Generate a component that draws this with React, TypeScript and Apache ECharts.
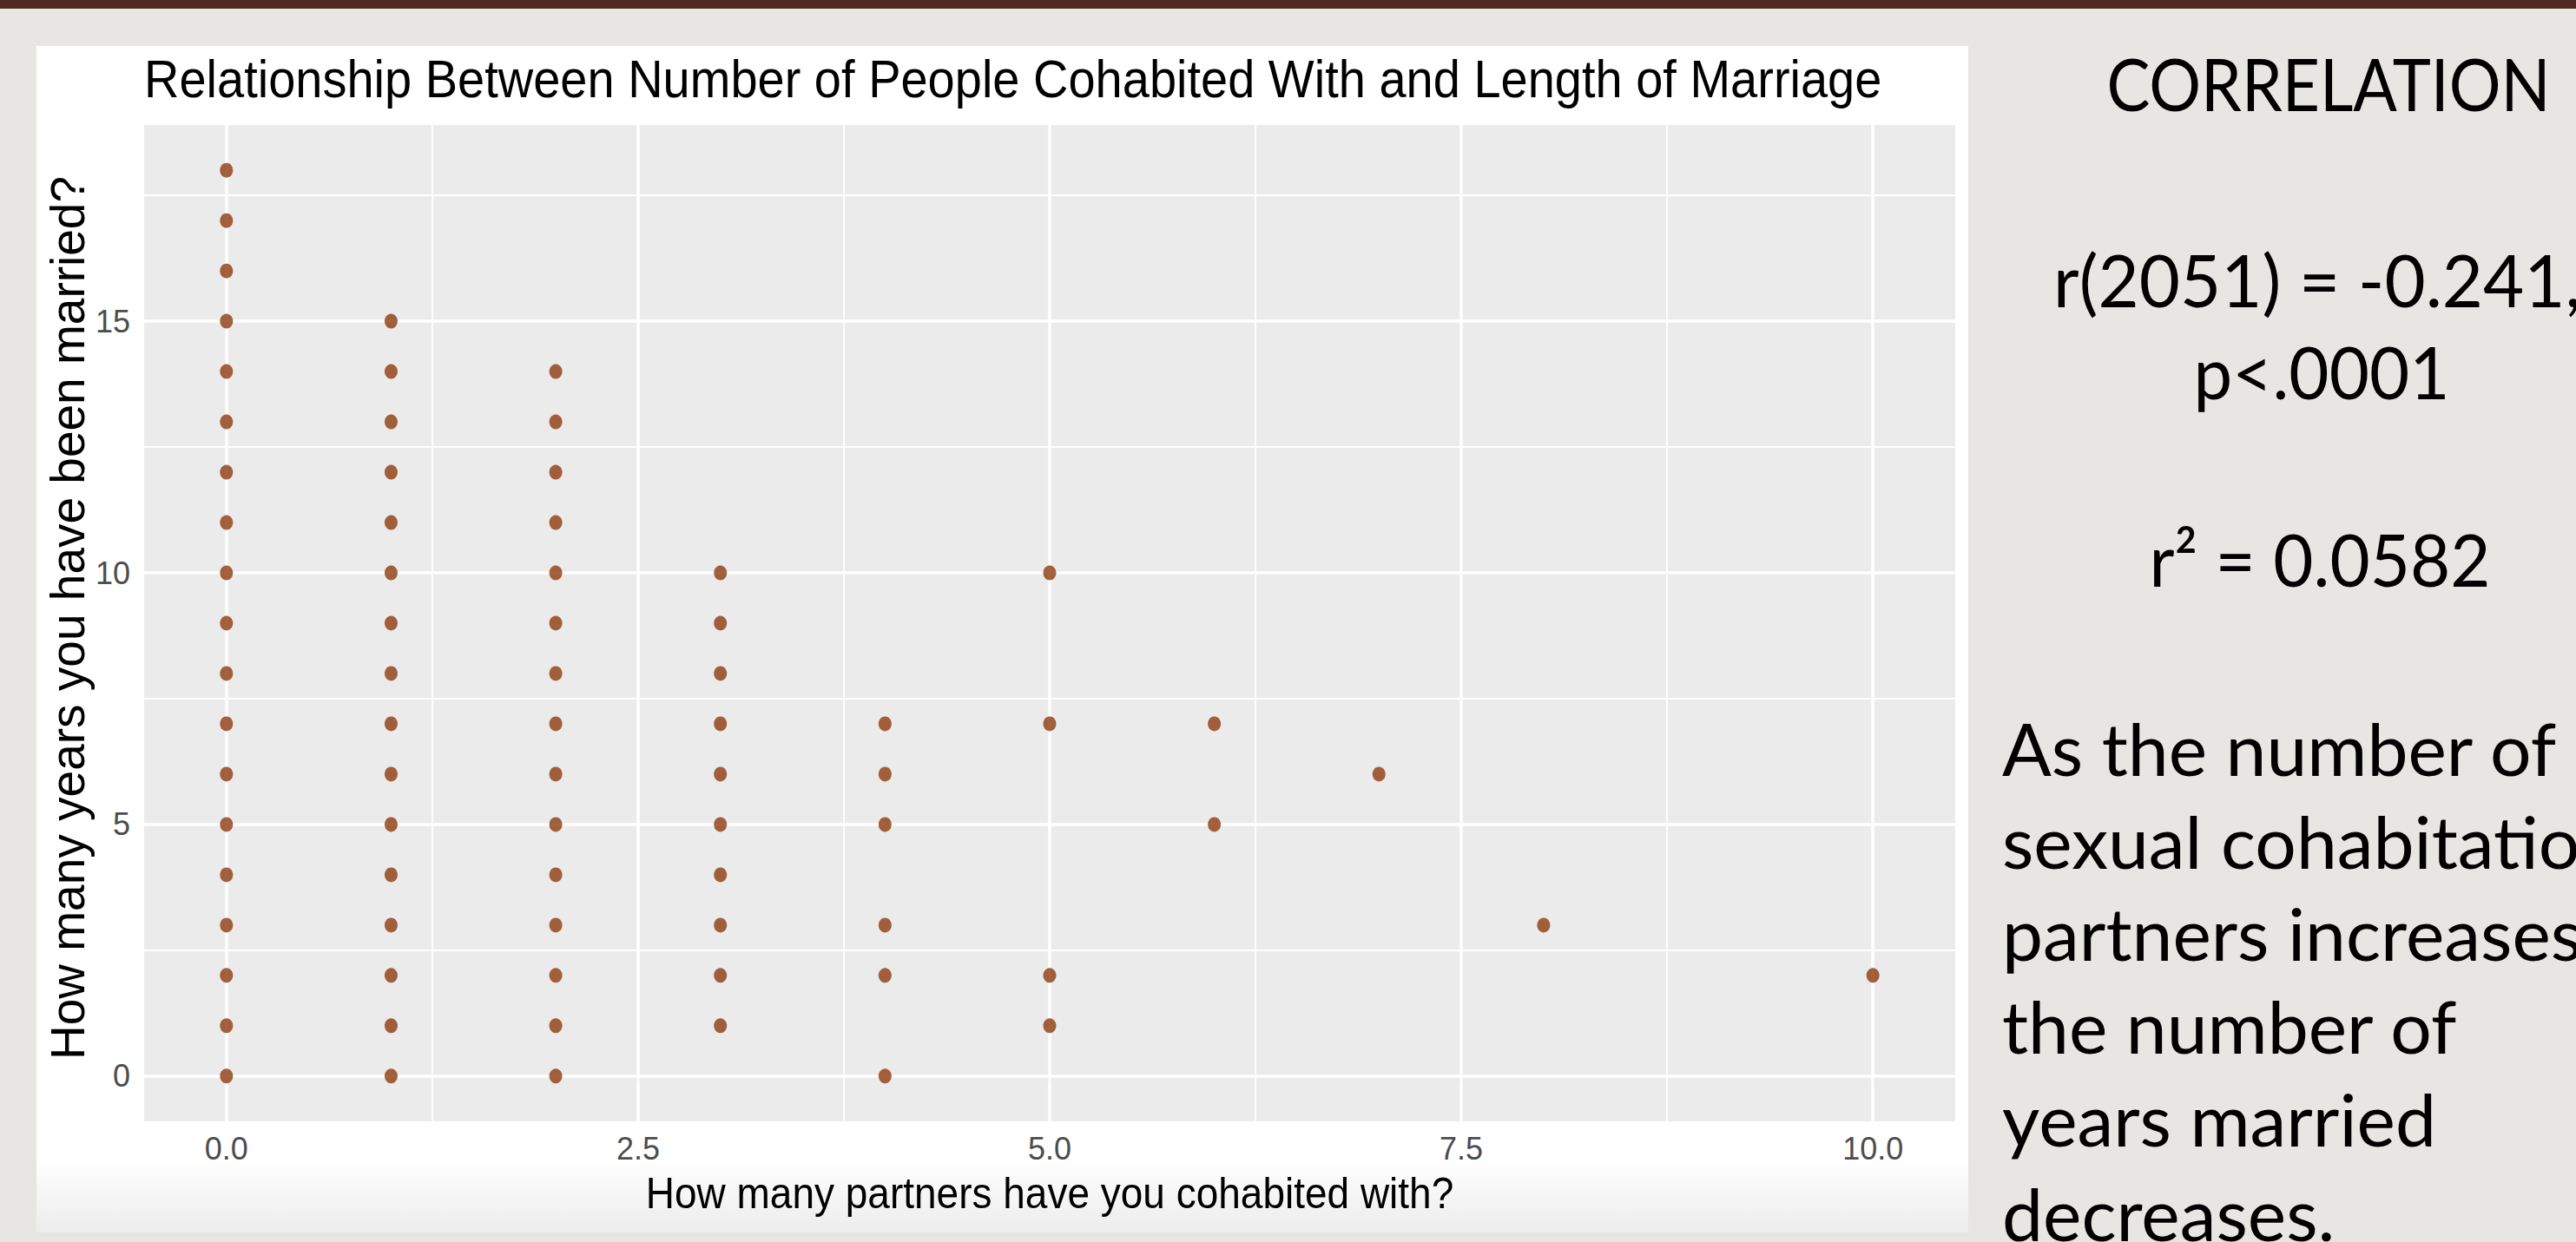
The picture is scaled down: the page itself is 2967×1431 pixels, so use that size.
import React, { useEffect, useRef } from "react";
import * as echarts from "echarts";

const W = 2967;
const H = 1431;

// ---- data ----
const partnersCohabited = [0, 1, 2, 3, 4, 5, 6, 7, 8, 10];
const yearsAt0 = [0, 1, 2, 3, 4, 5, 6, 7, 8, 9, 10, 11, 12, 13, 14, 15, 16, 17, 18];
const yearsAt1 = [0, 1, 2, 3, 4, 5, 6, 7, 8, 9, 10, 11, 12, 13, 14, 15];
const yearsAt2 = [0, 1, 2, 3, 4, 5, 6, 7, 8, 9, 10, 11, 12, 13, 14];
const yearsAt3 = [1, 2, 3, 4, 5, 6, 7, 8, 9, 10];
const yearsAt4 = [0, 2, 3, 5, 6, 7];
const yearsAt5 = [1, 2, 7, 10];
const yearsAt6 = [5, 7];
const yearsAt7 = [6];
const yearsAt8 = [3];
const yearsAt10 = [2];
const yearsByColumn = [yearsAt0, yearsAt1, yearsAt2, yearsAt3, yearsAt4, yearsAt5, yearsAt6, yearsAt7, yearsAt8, yearsAt10];

const xTicks = [0, 2.5, 5, 7.5, 10];
const xMinor = [1.25, 3.75, 6.25, 8.75];
const yTicks = [0, 5, 10, 15];
const yMinor = [2.5, 7.5, 12.5, 17.5];

const chartTitle = "Relationship Between Number of People Cohabited With and Length of Marriage";
const xTitle = "How many partners have you cohabited with?";
const yTitle = "How many years you have been married?";
const sideHeading = "CORRELATION";
const statLine1 = "r(2051) = -0.241,";
const statLine2 = "p<.0001";
const statLine3 = "r\u00B2 = 0.0582";
const paragraph = [
  "As the number of",
  "sexual cohabitation",
  "partners increases",
  "the number of",
  "years married",
  "decreases.",
];

const points: number[][] = [];
partnersCohabited.forEach((x, i) => {
  yearsByColumn[i].forEach((y) => points.push([x, y]));
});

const GG = "'Liberation Sans', Arial, Helvetica, sans-serif";
const SLIDE = "Lato, 'Open Sans', sans-serif";

export default function App() {
  const ref = useRef<HTMLDivElement>(null);
  useEffect(() => {
    document.body.style.margin = "0";
    const chart = echarts.init(ref.current!, null, { renderer: "svg", width: W, height: H });
    const sideText = (text: string, x: number, y: number, align: string, sx: number) => ({
      type: "text",
      z: 10,
      x,
      y,
      scaleX: sx,
      style: {
        text,
        fill: "#000",
        font: `84px ${SLIDE}`,
        textAlign: align,
        textVerticalAlign: "middle",
      },
    });
    const paraY = [861, 968, 1074, 1181, 1288, 1397];
    chart.setOption({
      animation: false,
      backgroundColor: "#e8e6e2",
      grid: {
        left: 166,
        top: 144,
        width: 2086,
        height: 1148,
        show: true,
        backgroundColor: "#ebebeb",
        borderWidth: 0,
        containLabel: false,
      },
      xAxis: {
        type: "value",
        min: -0.5,
        max: 10.5,
        axisLine: { show: false },
        splitLine: { show: false },
        axisTick: { show: true, customValues: xTicks, length: 10, lineStyle: { color: "#333", width: 2.2 } },
        axisLabel: {
          customValues: xTicks,
          formatter: (v: number) => v.toFixed(1),
          fontSize: 36,
          color: "#4d4d4d",
          fontFamily: GG,
          margin: 13,
        },
      },
      yAxis: {
        type: "value",
        min: -0.9,
        max: 18.9,
        axisLine: { show: false },
        splitLine: { show: false },
        axisTick: { show: true, customValues: yTicks, length: 10, lineStyle: { color: "#333", width: 2.2 } },
        axisLabel: {
          customValues: yTicks,
          formatter: (v: number) => String(v),
          fontSize: 36,
          color: "#4d4d4d",
          fontFamily: GG,
          margin: 16,
        },
      },
      graphic: [
        { type: "rect", z: -2, shape: { x: 0, y: 0, width: W, height: 10 }, style: { fill: "#4f2a20" } },
        { type: "rect", z: -2, shape: { x: 42, y: 53, width: 2225, height: 1367 }, style: { fill: "#ffffff" } },
        {
          type: "rect",
          z: -1,
          shape: { x: 42, y: 1335, width: 2225, height: 85 },
          style: {
            fill: new echarts.graphic.LinearGradient(0, 0, 0, 1, [
              { offset: 0, color: "rgba(236,236,236,0)" },
              { offset: 1, color: "rgba(236,236,236,1)" },
            ]),
          },
        },
        {
          type: "text",
          z: 10,
          x: 166,
          y: 91,
          scaleY: 1.1,
          style: { text: chartTitle, fill: "#000", font: `56px ${GG}`, textAlign: "left", textVerticalAlign: "middle" },
        },
        {
          type: "text",
          z: 10,
          x: 1209,
          y: 1374,
          scaleY: 1.1,
          style: { text: xTitle, fill: "#000", font: `46px ${GG}`, textAlign: "center", textVerticalAlign: "middle" },
        },
        {
          type: "text",
          z: 10,
          x: 78,
          y: 712,
          rotation: Math.PI / 2,
          style: { text: yTitle, fill: "#000", font: `55px ${GG}`, textAlign: "center", textVerticalAlign: "middle" },
        },
        sideText(sideHeading, 2682, 96, "center", 0.89),
        sideText(statLine1, 2365, 322, "left", 0.97),
        sideText(statLine2, 2674, 427, "center", 0.95),
        sideText(statLine3, 2672, 643, "center", 0.95),
        ...paragraph.map((t, i) => sideText(t, 2306, paraY[i], "left", 1)),
      ],
      series: [
        {
          type: "scatter",
          z: 3,
          data: points,
          symbol: "circle",
          symbolSize: [15, 17],
          itemStyle: { color: "#8e3b0f" },
          silent: true,
          markLine: {
            z: 1,
            silent: true,
            symbol: ["none", "none"],
            label: { show: false },
            lineStyle: { color: "#ffffff", type: "solid", opacity: 1 },
            data: [
              ...yMinor.map((v) => ({ yAxis: v, lineStyle: { width: 1.8, color: "#ffffff", type: "solid" } })),
              ...xMinor.map((v) => ({ xAxis: v, lineStyle: { width: 1.8, color: "#ffffff", type: "solid" } })),
              ...yTicks.map((v) => ({ yAxis: v, lineStyle: { width: 3.5, color: "#ffffff", type: "solid" } })),
              ...xTicks.map((v) => ({ xAxis: v, lineStyle: { width: 3.5, color: "#ffffff", type: "solid" } })),
            ],
          },
        },
      ],
    });
    return () => chart.dispose();
  }, []);
  return <div ref={ref} style={{ width: W, height: H, position: "absolute", left: 0, top: 0 }} />;
}
